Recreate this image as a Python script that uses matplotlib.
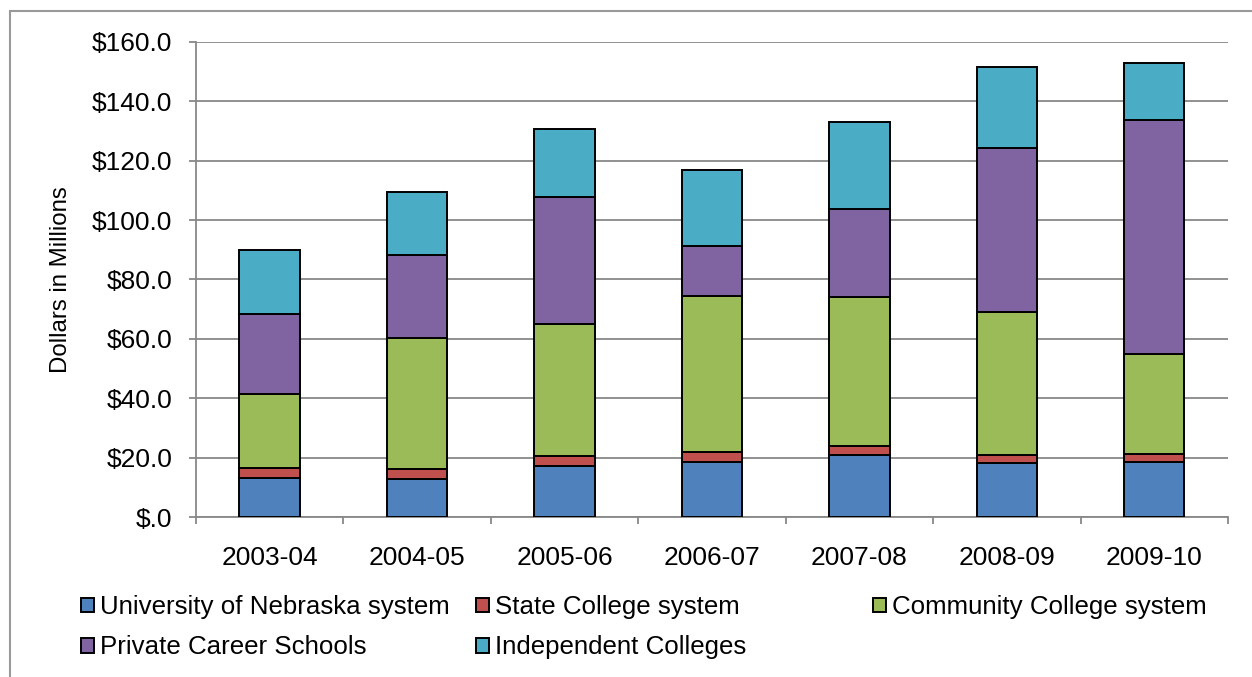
import numpy as np
import matplotlib.pyplot as plt
from matplotlib.patches import Rectangle
from matplotlib.ticker import FuncFormatter

plt.rcParams['font.family'] = ['Liberation Sans', 'DejaVu Sans']

years = ['2003-04', '2004-05', '2005-06', '2006-07', '2007-08', '2008-09', '2009-10']

# значения в млн долларов (по сегментам)
univ_nebraska = [13.1, 12.8, 17.2, 18.5, 20.9, 18.2, 18.5]
state_college = [3.4, 3.4, 3.3, 3.4, 3.0, 2.7, 2.7]
community_college = [24.9, 44.1, 44.5, 52.5, 50.2, 48.1, 33.7]
private_career = [27.0, 27.9, 42.7, 16.8, 29.6, 55.2, 78.8]
independent = [21.5, 21.2, 22.9, 25.6, 29.3, 27.3, 19.2]

series = [
    ('University of Nebraska system', univ_nebraska, '#4F81BD'),
    ('State College system', state_college, '#C0504D'),
    ('Community College system', community_college, '#9BBB59'),
    ('Private Career Schools', private_career, '#8064A2'),
    ('Independent Colleges', independent, '#4BACC6'),
]

grid_gray = '#888888'

fig = plt.figure(figsize=(12.52, 6.77), dpi=100)
ax = fig.add_axes([0.1565, 0.2363, 0.8243, 0.7017])

x = np.arange(len(years))
bottom = np.zeros(len(years))
handles = []
for name, vals, color in series:
    b = ax.bar(x, vals, width=0.41, bottom=bottom, color=color,
               edgecolor='black', linewidth=1.4, label=name, zorder=3)
    handles.append(b)
    bottom += np.array(vals)

ax.set_xlim(-0.5, len(years) - 0.5)
ax.set_ylim(0, 160)
ax.set_yticks(np.arange(0, 161, 20))
ax.yaxis.set_major_formatter(FuncFormatter(lambda v, p: '$.0' if v == 0 else '${:.1f}'.format(v)))
ax.grid(axis='y', color=grid_gray, linewidth=1.3, zorder=0)

ax.set_xticks(x)
ax.set_xticklabels(years)
ax.set_xticks(np.arange(-0.5, len(years)), minor=True)
ax.tick_params(axis='x', which='major', length=0, pad=21, labelsize=19)
ax.tick_params(axis='x', which='minor', length=5, width=1.3, color=grid_gray)
ax.tick_params(axis='y', length=5, width=1.3, color=grid_gray, pad=12, labelsize=19)

for s in ['top', 'right']:
    ax.spines[s].set_visible(False)
for s in ['left', 'bottom']:
    ax.spines[s].set_color(grid_gray)
    ax.spines[s].set_linewidth(1.3)

ax.set_ylabel('Dollars in Millions', fontsize=17.3, labelpad=14)

# легенда: три колонки вручную
cols = [([handles[0], handles[3]], 0.0647),
        ([handles[1], handles[4]], 0.380),
        ([handles[2]], 0.697)]
for hs, xpos in cols:
    fig.legend(handles=hs, labels=[h.get_label() for h in hs],
               loc='upper left', bbox_to_anchor=(xpos, 0.121),
               bbox_transform=fig.transFigure, frameon=False, fontsize=18.6,
               handlelength=0.5, handleheight=0.5, handletextpad=0.25,
               labelspacing=0.63, borderpad=0, borderaxespad=0)

# рамка вокруг всей диаграммы (правый и нижний край за пределами картинки)
fig.patches.append(Rectangle((0.008, -0.05), 1.05, 1.034, transform=fig.transFigure,
                             fill=False, edgecolor='#999999', linewidth=1.5))

plt.savefig('out.png', dpi=100)
